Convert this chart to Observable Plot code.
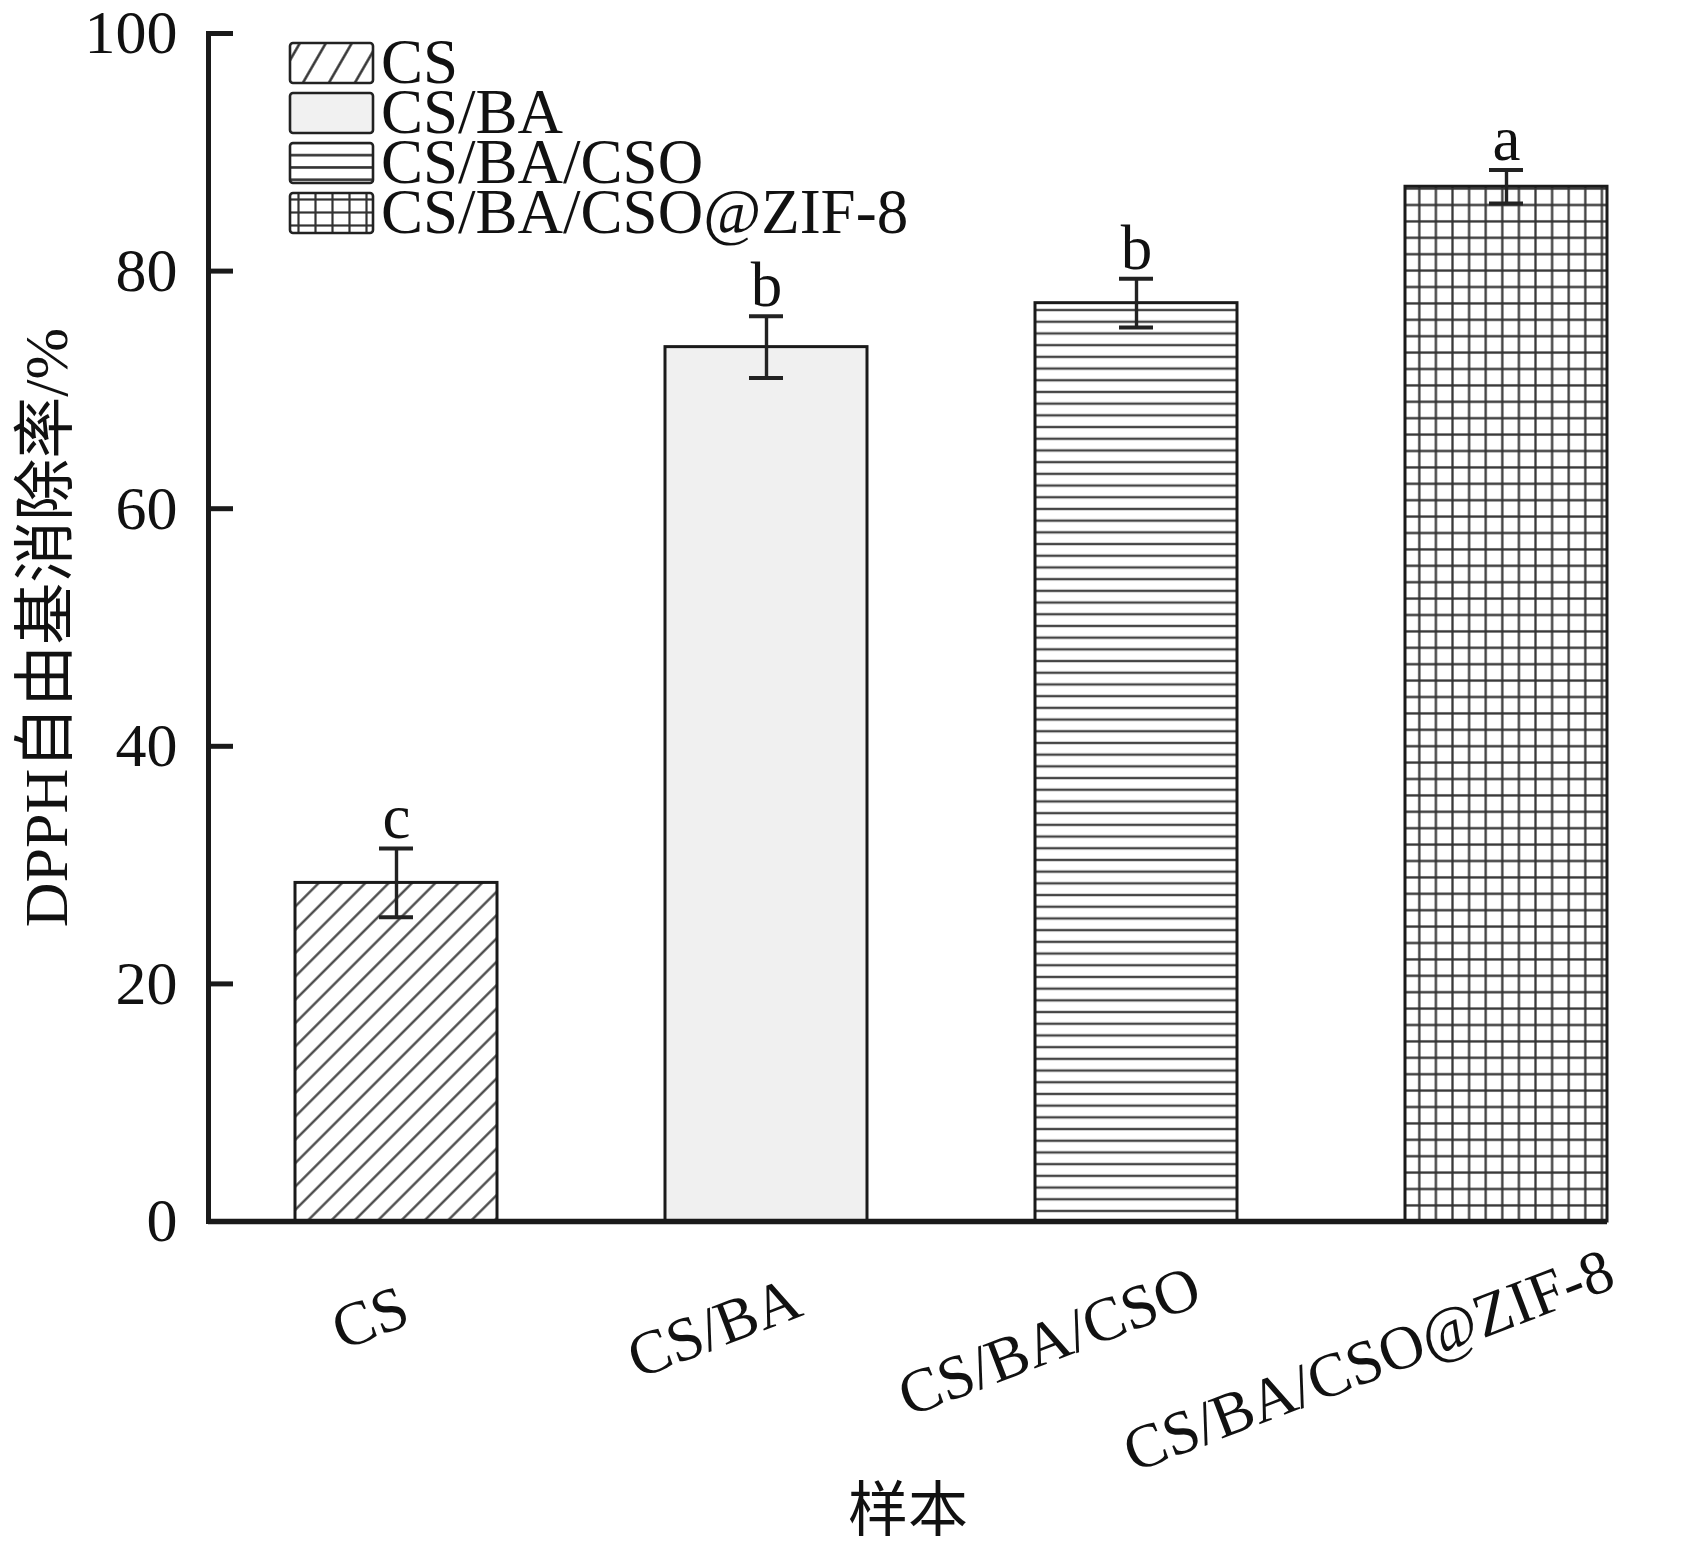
<!DOCTYPE html>
<html>
<head>
<meta charset="utf-8">
<script src="https://cdn.jsdelivr.net/npm/d3@7"></script>
<script src="https://cdn.jsdelivr.net/npm/@observablehq/plot@0.6"></script>
<style>
  body { margin: 0; background: #ffffff; }
  #wrap { position: relative; width: 1701px; height: 1543px; background: #ffffff; }
  #legend { position: absolute; left: 0; top: 0; pointer-events: none; }
</style>
</head>
<body>
<div id="wrap"></div>
<script>
// ---- data ----
const samples = ["CS", "CS/BA", "CS/BA/CSO", "CS/BA/CSO@ZIF-8"];
const means = [28.5, 73.6, 77.3, 87.1];
const sds = [2.9, 2.6, 2.05, 1.4];
const letters = ["c", "b", "b", "a"];
const fills = ["url(#p-hatch)", "#f0f0f0", "url(#p-hlines)", "url(#p-grid)"];
const legendFills = ["url(#lp-hatch)", "url(#lp-light)", "url(#lp-hlines)", "url(#lp-grid)"];
const yTicks = [0, 20, 40, 60, 80, 100];
const yLabel = "DPPH自由基消除率/%";
const xLabel = "样本";

const rows = samples.map((s, i) => ({sample: s, mean: means[i], sd: sds[i], letter: letters[i], fill: fills[i]}));

const FONT = '"Liberation Serif", "Times New Roman", "Noto Sans CJK SC", serif';
const W = 1701, H = 1543, mL = 208, mR = 94, mT = 33, mB = 322;
const frameW = W - mL - mR;

const plot = Plot.plot({
  width: W,
  height: H,
  marginLeft: mL,
  marginRight: mR,
  marginTop: mT,
  marginBottom: mB,
  style: {fontFamily: FONT, fontSize: "62px", background: "#ffffff", color: "#111"},
  x: {domain: samples, paddingInner: 0.455, paddingOuter: 0.116, align: 1, axis: null},
  y: {domain: [0, 100], axis: null},
  color: {type: "identity"},
  marks: [
    Plot.barY(rows, {x: "sample", y: "mean", fill: "fill", stroke: "#1a1a1a", strokeWidth: 3}),
    Plot.ruleX(rows, {x: "sample", y1: d => d.mean - d.sd, y2: d => d.mean + d.sd, stroke: "#222", strokeWidth: 3.4}),
    Plot.tickY(rows, {x: "sample", y: d => d.mean + d.sd, stroke: "#222", strokeWidth: 4, insetLeft: 84, insetRight: 84}),
    Plot.tickY(rows, {x: "sample", y: d => d.mean - d.sd, stroke: "#222", strokeWidth: 4, insetLeft: 84, insetRight: 84}),
    Plot.text(rows, {x: "sample", y: d => d.mean + d.sd, text: "letter", lineAnchor: "bottom", dy: -10, fontSize: 63, fill: "#111"}),
    // axes
    Plot.ruleY([0], {stroke: "#1a1a1a", strokeWidth: 5.5}),
    Plot.frame({anchor: "left", stroke: "#1a1a1a", strokeWidth: 5}),
    Plot.ruleY(yTicks.filter(t => t > 0), {y: d => d, stroke: "#1a1a1a", strokeWidth: 5, insetRight: frameW - 25}),
    Plot.axisY({ticks: yTicks, tickSize: 0, tickPadding: 31, label: null, fontSize: 62, tickFormat: d => String(d)}),
    // x tick labels (rotated)
    Plot.text(samples, {x: d => d, text: d => d, frameAnchor: "bottom", dy: 108, rotate: -21, textAnchor: "end", lineAnchor: "bottom", fontSize: 62, fill: "#111"}),
    // axis titles
    Plot.text([yLabel], {text: d => d, frameAnchor: "left", dx: -161, rotate: -90, textAnchor: "middle", lineAnchor: "middle", fontSize: 62, fill: "#111"}),
    Plot.text([xLabel], {text: d => d, frameAnchor: "bottom", dy: 309, lineAnchor: "bottom", fontSize: 60, fill: "#111"})
  ]
});

// pattern definitions
d3.select(plot).insert("defs", ":first-child").html(`
  <pattern id="p-hatch" patternUnits="userSpaceOnUse" width="16.5" height="16.5" patternTransform="rotate(45)">
    <rect width="16.5" height="16.5" fill="#ffffff"/>
    <line x1="8.25" y1="-1" x2="8.25" y2="17.5" stroke="#3c3c3c" stroke-width="2.2"/>
  </pattern>
  <pattern id="p-hlines" patternUnits="userSpaceOnUse" width="20" height="11.7">
    <rect width="20" height="11.7" fill="#ffffff"/>
    <line x1="-1" y1="5.85" x2="21" y2="5.85" stroke="#454545" stroke-width="2.4"/>
  </pattern>
  <pattern id="p-grid" patternUnits="userSpaceOnUse" width="16.6" height="16.4">
    <rect width="16.6" height="16.4" fill="#ffffff"/>
    <line x1="8.3" y1="-1" x2="8.3" y2="17.4" stroke="#3a3a3a" stroke-width="2.3"/>
    <line x1="-1" y1="8.2" x2="17.6" y2="8.2" stroke="#333" stroke-width="2.3"/>
  </pattern>
  <pattern id="lp-hatch" patternUnits="userSpaceOnUse" width="22.5" height="22.5" patternTransform="rotate(30)">
    <rect width="22.5" height="22.5" fill="#ffffff"/>
    <line x1="11.25" y1="-1" x2="11.25" y2="23.5" stroke="#2a2a2a" stroke-width="2.4"/>
  </pattern>
  <pattern id="lp-light" patternUnits="userSpaceOnUse" width="10" height="10">
    <rect width="10" height="10" fill="#f1f1f1"/>
  </pattern>
  <pattern id="lp-hlines" patternUnits="userSpaceOnUse" width="20" height="12.3" y="149">
    <rect width="20" height="12.3" fill="#ffffff"/>
    <line x1="-1" y1="6.15" x2="21" y2="6.15" stroke="#333" stroke-width="2.6"/>
  </pattern>
  <pattern id="lp-grid" patternUnits="userSpaceOnUse" width="17" height="13" x="290" y="193">
    <rect width="17" height="13" fill="#ffffff"/>
    <line x1="8.5" y1="-1" x2="8.5" y2="14" stroke="#333" stroke-width="2.2"/>
    <line x1="-1" y1="6.5" x2="18" y2="6.5" stroke="#333" stroke-width="2.2"/>
  </pattern>
`);

const wrap = document.getElementById("wrap");
wrap.appendChild(plot);

// shift rotated x labels along their baseline so ~77% of each label sits left of the bar centre
d3.select(plot).selectAll("text").each(function () {
  const t = (this.getAttribute("transform") || "") + " " + ((this.parentNode && this.parentNode.getAttribute && this.parentNode.getAttribute("transform")) || "");
  if (t.includes("rotate(-21")) {
    const L = this.getComputedTextLength();
    this.setAttribute("dx", (0.23 * L).toFixed(1));
  }
});

// legend (inside the plot area, top-left)
const leg = d3.select(wrap).append("svg")
  .attr("id", "legend")
  .attr("width", W)
  .attr("height", 260)
  .style("font-family", FONT);
samples.forEach((s, i) => {
  const y0 = 43 + 50 * i;
  leg.append("rect")
    .attr("x", 290).attr("y", y0).attr("width", 83).attr("height", 40)
    .attr("rx", 3)
    .attr("fill", legendFills[i])
    .attr("stroke", "#222").attr("stroke-width", 2.6);
  leg.append("text")
    .attr("x", 381).attr("y", y0 + 40)
    .attr("font-size", 63)
    .attr("fill", "#111")
    .text(s);
});
</script>
</body>
</html>
